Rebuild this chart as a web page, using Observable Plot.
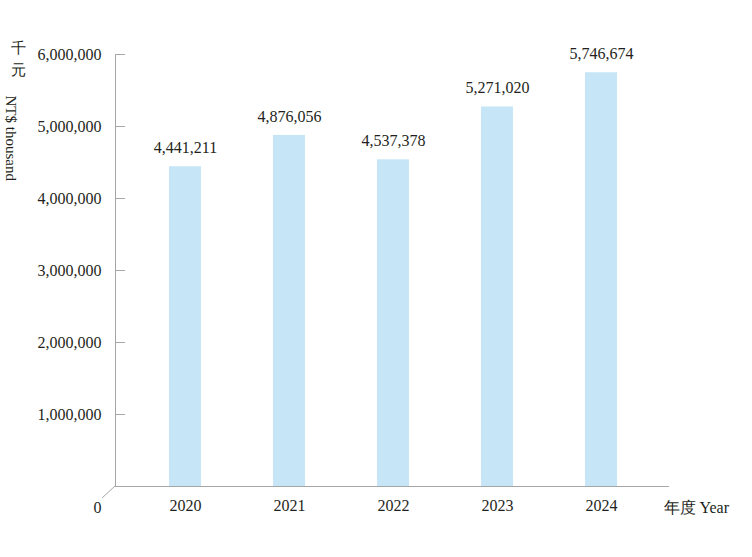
<!DOCTYPE html>
<html>
<head>
<meta charset="utf-8">
<script src="https://cdn.jsdelivr.net/npm/d3@7"></script>
<script src="https://cdn.jsdelivr.net/npm/@observablehq/plot@0.6"></script>
<style>
  html, body { margin: 0; padding: 0; background: #fff; }
  #chart { width: 752px; height: 557px; }
</style>
</head>
<body>
<div id="chart"></div>
<script>
const years = ["2020", "2021", "2022", "2023", "2024"];
const values = [4441211, 4876056, 4537378, 5271020, 5746674];
const yTicks = [1000000, 2000000, 3000000, 4000000, 5000000, 6000000];
const yUnitZh = ["千", "元"];
const yUnitEn = "NT$ thousand";
const xUnit = "年度 Year";
const zeroLabel = "0";

const data = years.map((year, i) => ({year, value: values[i]}));
const fmt = d3.format(",");
const axisColor = "#a6a6a6";
const textColor = "#231f20";

const plot = Plot.plot({
  width: 752,
  height: 557,
  marginLeft: 115,
  marginRight: 83,
  marginTop: 54,
  marginBottom: 71,
  style: {fontFamily: "'Liberation Serif', 'Times New Roman', serif", fontSize: "16px", color: textColor, background: "#fff", overflow: "visible"},
  x: {domain: years, paddingInner: 0.69, paddingOuter: 0.508, align: 0.51, label: null},
  y: {domain: [0, 6000000], label: null},
  marks: [
    Plot.barY(data, {x: "year", y: "value", fill: "#c6e6f7"}),
    Plot.text(data, {x: "year", y: "value", text: d => fmt(d.value), dy: -19, fontSize: 16, fill: textColor}),
    Plot.axisY({ticks: yTicks, tickSize: 0, tickPadding: 14, tickFormat: fmt, label: null, fontSize: 16, fill: textColor}),
    Plot.tickY(yTicks, {y: d => d, stroke: axisColor, insetRight: 554 - 10}),
    Plot.ruleY([0], {stroke: axisColor}),
    Plot.frame({anchor: "left", stroke: axisColor}),
    Plot.axisX({tickSize: 0, tickPadding: 13, label: null, fontSize: 16, fill: textColor}),
    Plot.text([zeroLabel], {y: [0], frameAnchor: "left", dx: -22, dy: 21, fontSize: 16, fill: textColor}),
    Plot.text([xUnit], {y: [0], frameAnchor: "right", textAnchor: "start", dx: -6, dy: 21, fontSize: 16, fill: textColor}),
    Plot.text([yUnitZh[0]], {y: [6000000], frameAnchor: "left", dx: -105, dy: -6, fontSize: 15, fill: textColor}),
    Plot.text([yUnitZh[1]], {y: [6000000], frameAnchor: "left", dx: -105, dy: 16, fontSize: 15, fill: textColor}),
    Plot.text([yUnitEn], {y: [6000000], frameAnchor: "left", dx: -105, dy: 41, rotate: 90, textAnchor: "start", fontSize: 15, fill: textColor})
  ]
});

// decorative diagonal stub at the origin
const y0 = plot.scale("y").apply(0);
d3.select(plot).append("line")
  .attr("x1", 115).attr("y1", y0)
  .attr("x2", 102).attr("y2", y0 + 12)
  .attr("stroke", axisColor);

document.getElementById("chart").appendChild(plot);
</script>
</body>
</html>
